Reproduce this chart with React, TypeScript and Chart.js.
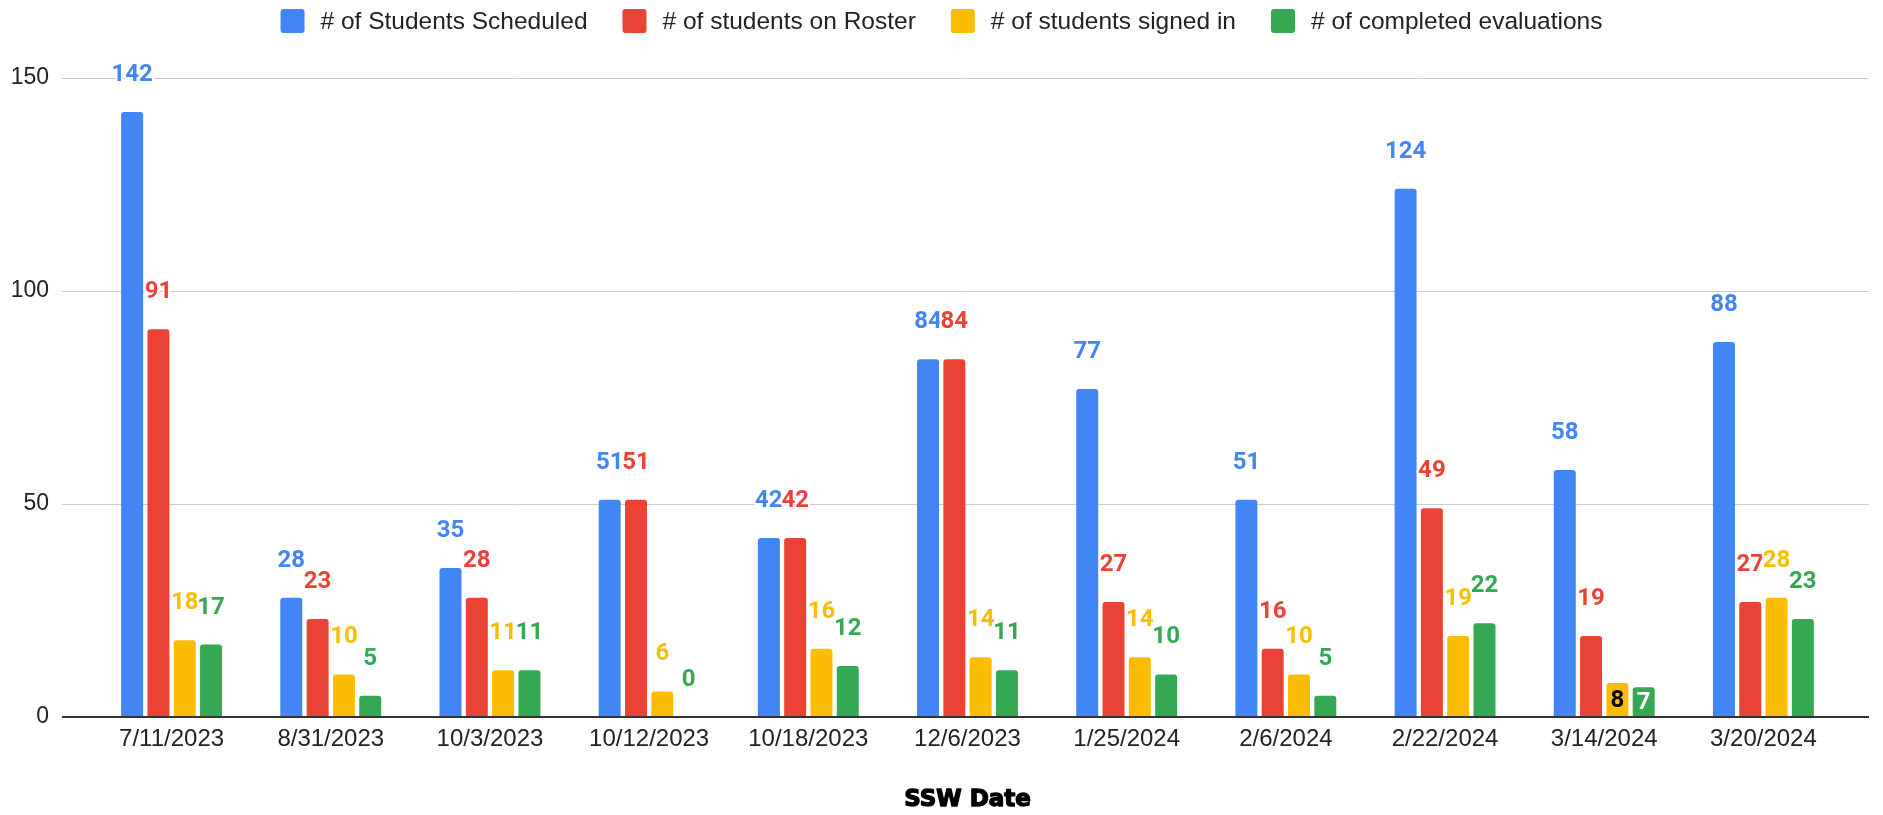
import React, { useEffect, useRef } from "react";
import { Chart, registerables } from "chart.js";

Chart.register(...registerables);

// Session dates and counts per session
const sessionDates = [
  "7/11/2023",
  "8/31/2023",
  "10/3/2023",
  "10/12/2023",
  "10/18/2023",
  "12/6/2023",
  "1/25/2024",
  "2/6/2024",
  "2/22/2024",
  "3/14/2024",
  "3/20/2024",
];
const studentsScheduled = [142, 28, 35, 51, 42, 84, 77, 51, 124, 58, 88];
const studentsOnRoster = [91, 23, 28, 51, 42, 84, 27, 16, 49, 19, 27];
const studentsSignedIn = [18, 10, 11, 6, 16, 14, 14, 10, 19, 8, 28];
const completedEvaluations = [17, 5, 11, 0, 12, 11, 10, 5, 22, 7, 23];

const seriesNames = [
  "# of Students Scheduled",
  "# of students on Roster",
  "# of students signed in",
  "# of completed evaluations",
];
const seriesColors = ["#4285F4", "#EA4335", "#FBBC04", "#34A853"];
const yTickValues = [0, 50, 100, 150];
const xAxisTitle = "SSW Date";

// Value labels that sit inside their bar instead of above it
const insideLabels = [
  { dataset: 2, index: 9, color: "#000000" },
  { dataset: 3, index: 9, color: "#FFFFFF" },
];

const TEXT_FONT = "'Liberation Sans', Arial, sans-serif";
const LABEL_FONT = "bold 24px Roboto, 'Liberation Sans', Arial, sans-serif";
const TITLE_FONT = "bold 23px 'DejaVu Sans', sans-serif";

const sheetPlugin = {
  id: "sheetDecorations",
  beforeDatasetsDraw(chart: any) {
    const { ctx, chartArea } = chart;
    const y = chart.scales.y;
    const left = chartArea.left - 30;
    const right = chartArea.right + 26;
    ctx.save();
    ctx.strokeStyle = "#cccccc";
    ctx.lineWidth = 1;
    for (const v of yTickValues) {
      if (v === 0) continue;
      const py = Math.round(y.getPixelForValue(v)) + 0.5;
      ctx.beginPath();
      ctx.moveTo(left, py);
      ctx.lineTo(right, py);
      ctx.stroke();
    }
    ctx.restore();
  },
  afterDatasetsDraw(chart: any) {
    const { ctx, chartArea } = chart;
    const y = chart.scales.y;
    const left = chartArea.left - 30;
    const right = chartArea.right + 26;
    ctx.save();
    // zero baseline
    const base = y.getPixelForValue(0);
    ctx.fillStyle = "#333333";
    ctx.fillRect(left, Math.round(base) - 1, right - left, 2);

    // value labels
    ctx.font = LABEL_FONT;
    ctx.textAlign = "center";
    ctx.textBaseline = "middle";
    ctx.lineJoin = "round";
    chart.data.datasets.forEach((ds: any, di: number) => {
      const meta = chart.getDatasetMeta(di);
      meta.data.forEach((bar: any, i: number) => {
        const value = ds.data[i];
        const text = String(value);
        const inside = insideLabels.find((l) => l.dataset === di && l.index === i);
        if (inside) {
          ctx.fillStyle = inside.color;
          ctx.fillText(text, bar.x, (bar.y + bar.base) / 2 + 1);
        } else {
          const ly = bar.y - 37;
          ctx.strokeStyle = "#ffffff";
          ctx.lineWidth = 4;
          ctx.strokeText(text, bar.x, ly);
          ctx.fillStyle = seriesColors[di];
          ctx.fillText(text, bar.x, ly);
        }
      });
    });
    ctx.restore();
  },
  afterDraw(chart: any) {
    const { ctx, chartArea } = chart;
    ctx.save();

    // x axis title, centred under the plot area
    ctx.font = TITLE_FONT;
    ctx.textAlign = "center";
    ctx.textBaseline = "middle";
    ctx.fillStyle = "#000000";
    ctx.strokeStyle = "#000000";
    ctx.lineWidth = 1.3;
    ctx.lineJoin = "round";
    const tx = (chartArea.left + chartArea.right) / 2;
    const ty = chart.height - 15;
    ctx.strokeText(xAxisTitle, tx, ty);
    ctx.fillText(xAxisTitle, tx, ty);

    // legend row
    ctx.font = `24.5px ${TEXT_FONT}`;
    ctx.textBaseline = "middle";
    ctx.textAlign = "left";
    const box = 24;
    const gapText = 16;
    const gapItem = 35;
    const widths = seriesNames.map((n) => ctx.measureText(n).width);
    const total =
      widths.reduce((a, w) => a + box + gapText + w, 0) + gapItem * (seriesNames.length - 1);
    let x = chart.width / 2 - total / 2;
    const cy = 21;
    seriesNames.forEach((name, i) => {
      ctx.fillStyle = seriesColors[i];
      ctx.beginPath();
      ctx.roundRect(x, cy - box / 2, box, box, 3);
      ctx.fill();
      ctx.fillStyle = "#222222";
      ctx.fillText(name, x + box + gapText, cy + 1);
      x += box + gapText + widths[i] + gapItem;
    });
    ctx.restore();
  },
};

export default function App() {
  const canvasRef = useRef<HTMLCanvasElement>(null);

  useEffect(() => {
    document.body.style.margin = "0";
    const seriesData = [studentsScheduled, studentsOnRoster, studentsSignedIn, completedEvaluations];
    const chart = new Chart(canvasRef.current as HTMLCanvasElement, {
      type: "bar",
      data: {
        labels: sessionDates,
        datasets: seriesData.map((data, i) => ({
          label: seriesNames[i],
          data,
          backgroundColor: seriesColors[i],
          borderWidth: 0,
          borderRadius: { topLeft: 3, topRight: 3, bottomLeft: 0, bottomRight: 0 },
          borderSkipped: false,
          barPercentage: 0.836,
          categoryPercentage: 0.661,
        })),
      },
      options: {
        responsive: false,
        animation: false,
        devicePixelRatio: 1,
        events: [],
        layout: { padding: { top: 78, right: 40, bottom: 0, left: 0 } },
        plugins: {
          legend: { display: false },
          tooltip: { enabled: false },
        },
        scales: {
          x: {
            grid: { display: false, drawTicks: false },
            border: { display: false },
            ticks: {
              color: "#222222",
              font: { family: TEXT_FONT, size: 24 },
              padding: 8,
              maxRotation: 0,
              autoSkip: false,
            },
            afterFit(scale: any) {
              scale.height = 98;
            },
          },
          y: {
            min: 0,
            max: 150,
            grid: { display: false, drawTicks: false },
            border: { display: false },
            afterBuildTicks(scale: any) {
              scale.ticks = yTickValues.map((value) => ({ value }));
            },
            ticks: {
              color: "#222222",
              font: { family: TEXT_FONT, size: 23 },
              padding: 43,
            },
            afterFit(scale: any) {
              scale.width = 92;
            },
          },
        },
      },
      plugins: [sheetPlugin],
    });
    return () => chart.destroy();
  }, []);

  return (
    <div style={{ width: 1883, height: 815 }}>
      <canvas ref={canvasRef} width={1883} height={815} style={{ display: "block", width: 1883, height: 815 }} />
    </div>
  );
}
